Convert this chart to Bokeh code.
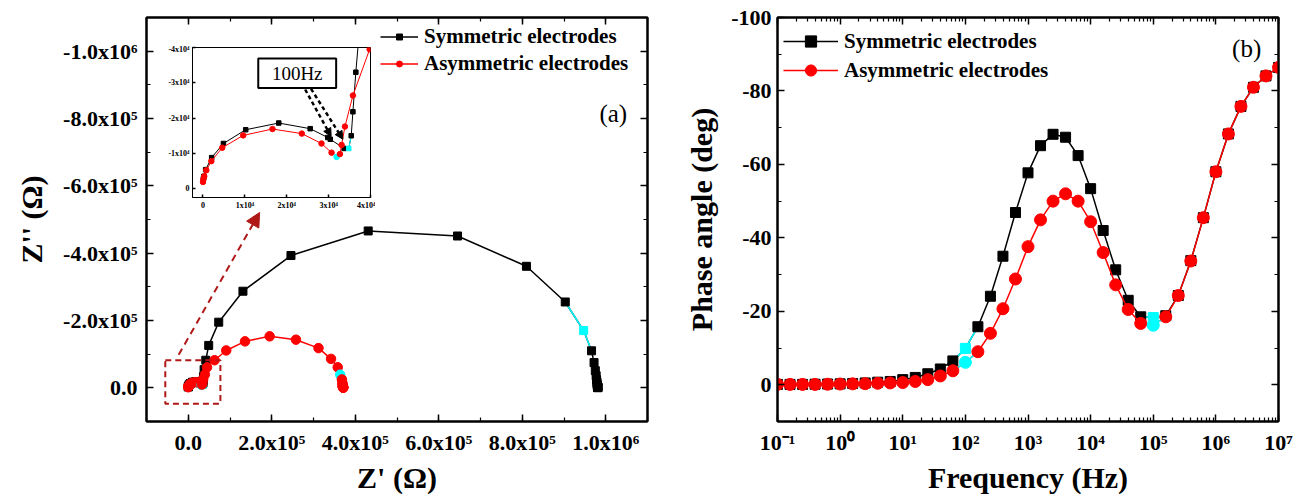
from bokeh.plotting import figure
from bokeh.models import (Range1d, FixedTicker, SingleIntervalTicker, LinearAxis, LogAxis,
                          Legend, LegendItem, BoxAnnotation, Arrow, NormalHead, Label,
                          ColumnDataSource, GridBox)
from bokeh.layouts import row
from bokeh.embed import file_html
from bokeh.resources import INLINE

# ---------------- data ----------------
# Nyquist, symmetric electrodes (Z', Z'') in ohm, high -> low frequency
sym_zre = [100, 240, 640, 2080, 4880, 10200, 18100, 25600, 29800, 30400,
           33700, 34800, 35400, 35800, 36500, 38000, 42000, 49000, 73000, 131000,
           246000, 431000, 645000, 810000, 903000, 947000, 966000, 972000, 975000, 977000,
           978000, 979000, 979000, 980000, 980000, 980000, 981000, 981000, 981000, 981000,
           981000, 981000]
sym_zim = [-2800, -3500, -5400, -8800, -12800, -16700, -18600, -17000, -14500, -14000,
           -11400, -11400, -15000, -21800, -33000, -54000, -82000, -126000, -195000, -287000,
           -393000, -466000, -451000, -361000, -255000, -170000, -110000, -75000, -51000, -36000,
           -24000, -17000, -12000, -8500, -6000, -4000, -3000, -2000, -1500, -1000,
           -700, -500]
sym_nyq_highlight = [11, 25]

# Nyquist, asymmetric electrodes
asym_zre = [0, 100, 300, 800, 2000, 4600, 9600, 16600, 23600, 28300,
            30700, 31900, 32700, 33100, 33900, 35800, 39800, 45000, 63000, 91000,
            136000, 195000, 258000, 312000, 342000, 358000, 364000, 368000, 369000, 370000,
            370000, 370000, 370500, 370500, 371000, 371000, 371000, 371000, 371000, 371000]
asym_zim = [-1900, -2600, -3500, -5200, -7800, -11600, -15100, -16900, -15600, -12800,
            -10200, -9000, -9800, -12400, -17600, -26400, -39500, -61000, -82000, -111000,
            -138000, -153000, -143000, -118000, -86000, -61000, -39000, -25000, -15500, -10000,
            -7000, -4500, -3500, -2500, -2000, -1500, -1000, -800, -600, -400]
asym_nyq_highlight = [11, 26]

# Bode phase
freq = [0.1, 0.1585, 0.2512, 0.3981, 0.631, 1.0, 1.585, 2.512, 3.981, 6.31,
        10.0, 15.85, 25.12, 39.81, 63.1, 100.0, 158.5, 251.2, 398.1, 631.0,
        1000.0, 1585.0, 2512.0, 3981.0, 6310.0, 10000.0, 15850.0, 25120.0, 39810.0, 63100.0,
        100000.0, 158500.0, 251200.0, 398100.0, 631000.0, 1000000.0, 1585000.0, 2512000.0,
        3981000.0, 6310000.0, 10000000.0]
sym_phase = [-0.1, -0.1, -0.1, -0.15, -0.2, -0.25, -0.35, -0.5, -0.7, -0.9,
             -1.4, -2.0, -3.0, -4.3, -6.5, -9.9, -15.8, -24.1, -35.0, -46.9,
             -57.7, -65.1, -68.2, -67.4, -62.4, -53.4, -42.0, -31.3, -23.0, -18.5,
             -18.3, -18.8, -24.3, -33.8, -45.5, -58.0, -68.3, -75.8, -81.0, -84.1,
             -86.4]
asym_phase = [-0.1, -0.1, -0.1, -0.1, -0.15, -0.2, -0.25, -0.3, -0.4, -0.5,
              -0.6, -0.9, -1.4, -2.4, -3.8, -6.1, -9.0, -14.0, -20.7, -28.8,
              -37.6, -44.9, -50.0, -52.0, -50.0, -44.4, -36.0, -27.2, -20.5, -16.7,
              -16.2, -18.5, -24.3, -33.7, -45.5, -58.0, -68.3, -75.8, -81.0, -84.1,
              -86.4]
phase_highlight = [15, 30]

series_names = ["Symmetric electrodes", "Asymmetric electrodes"]

# tick labels
nyq_x_ticks = [0, 200000, 400000, 600000, 800000, 1000000]
nyq_x_labels = ["0.0", "2.0x10\u2075", "4.0x10\u2075", "6.0x10\u2075", "8.0x10\u2075", "1.0x10\u2076"]
nyq_y_ticks = [0, -200000, -400000, -600000, -800000, -1000000]
nyq_y_labels = ["0.0", "-2.0x10\u2075", "-4.0x10\u2075", "-6.0x10\u2075", "-8.0x10\u2075", "-1.0x10\u2076"]
ins_x_ticks = [0, 10000, 20000, 30000, 40000]
ins_x_labels = ["0", "1x10\u2074", "2x10\u2074", "3x10\u2074", "4x10\u2074"]
ins_y_ticks = [0, -10000, -20000, -30000, -40000]
ins_y_labels = ["0", "-1x10\u2074", "-2x10\u2074", "-3x10\u2074", "-4x10\u2074"]
ph_y_ticks = [0, -20, -40, -60, -80, -100]
ph_y_labels = ["0", "-20", "-40", "-60", "-80", "-100"]
f_ticks = [0.1, 1, 10, 100, 1000, 10000, 100000, 1000000, 10000000]
f_labels = ["10\u207b\u00b9", "10\u2070", "10\u00b9", "10\u00b2", "10\u00b3", "10\u2074",
            "10\u2075", "10\u2076", "10\u2077"]

# ---------------- style ----------------
FONT = "Liberation Serif"
BLACK = "#000000"
RED = "#FF0000"
CYAN = "#00FFFF"
DARKRED = "#B01818"


def draw_series(p, xs, ys, color, marker, size, hl, lw):
    line_r = p.line(xs, ys, line_color=color, line_width=lw)
    for i in hl:
        p.line(xs[i - 1:i + 2], ys[i - 1:i + 2], line_color=CYAN, line_width=lw)
    cols = [CYAN if i in hl else color for i in range(len(xs))]
    src = ColumnDataSource(dict(x=xs, y=ys, c=cols))
    sc = p.scatter("x", "y", source=src, marker=marker, size=size,
                   fill_color="c", line_color="c")
    return line_r, sc


def style_axis(ax, fs="22px", tick_in=7, minor_in=4, lw=2):
    ax.axis_line_width = lw
    ax.axis_line_color = BLACK
    ax.major_tick_line_color = BLACK
    ax.minor_tick_line_color = BLACK
    ax.major_tick_in = tick_in
    ax.major_tick_out = 0
    ax.minor_tick_in = minor_in
    ax.minor_tick_out = 0
    ax.major_tick_line_width = 1.5
    ax.minor_tick_line_width = 1.2
    ax.major_label_text_font = FONT
    ax.major_label_text_font_style = "bold"
    ax.major_label_text_font_size = fs
    ax.major_label_text_color = BLACK
    ax.axis_label_text_font = FONT
    ax.axis_label_text_font_style = "bold"
    ax.axis_label_text_font_size = "30px"
    ax.axis_label_text_color = BLACK


def mirror_axis(p, cls, ticker, ticks, place, lw=2, tick_in=7, minor_in=4):
    ax = cls(ticker=ticker)
    style_axis(ax, fs="10px", lw=lw, tick_in=tick_in, minor_in=minor_in)
    ax.major_label_overrides = {t: "" for t in ticks}
    ax.major_label_standoff = 0
    p.add_layout(ax, place)
    return ax


def make_legend(items, loc, spacing, gw, gh):
    return Legend(items=items, location=loc, padding=0, margin=0, spacing=spacing,
                  glyph_width=gw, glyph_height=gh, label_height=20, label_standoff=6,
                  label_text_font=FONT, label_text_font_style="bold",
                  label_text_font_size="21px", label_text_color=BLACK,
                  border_line_color=None, background_fill_alpha=0)


# ---------------- left: Nyquist ----------------
p1 = figure(width=660, height=496, min_border_left=146, min_border_right=13,
            min_border_top=17, min_border_bottom=73,
            x_range=Range1d(-100000, 1100000), y_range=Range1d(100000, -1100000),
            output_backend="svg", toolbar_location=None)
p1.grid.grid_line_color = None
p1.outline_line_color = BLACK
p1.outline_line_width = 2

xt1 = SingleIntervalTicker(interval=200000, num_minor_ticks=2)
yt1 = SingleIntervalTicker(interval=200000, num_minor_ticks=2)
ax = p1.xaxis[0]
ax.ticker = xt1
style_axis(ax)
ax.major_label_overrides = dict(zip(nyq_x_ticks, nyq_x_labels))
ax.major_label_standoff = 8
ax.axis_label = "Z' (\u03a9)"
ax.axis_label_standoff = 3
ay = p1.yaxis[0]
ay.ticker = yt1
style_axis(ay)
ay.major_label_overrides = dict(zip(nyq_y_ticks, nyq_y_labels))
ay.major_label_standoff = 9
ay.axis_label = "Z'' (\u03a9)"
ay.axis_label_standoff = 12
mirror_axis(p1, LinearAxis, xt1, nyq_x_ticks, "above")
mirror_axis(p1, LinearAxis, yt1, nyq_y_ticks, "right")

l1s, s1s = draw_series(p1, sym_zre, sym_zim, BLACK, "square", 8, sym_nyq_highlight, 1.5)
l1a, s1a = draw_series(p1, asym_zre, asym_zim, RED, "circle", 9.5, asym_nyq_highlight, 1.5)

p1.add_layout(BoxAnnotation(left=-55000, right=77000, top=-82000, bottom=47000,
                            fill_alpha=0, line_alpha=1, line_color=DARKRED,
                            line_dash="6 4", line_width=2))
p1.add_layout(Arrow(end=NormalHead(size=14, fill_color=DARKRED, line_color=DARKRED),
                    x_start=-23000, y_start=-98000, x_end=171000, y_end=-521000,
                    line_color=DARKRED, line_dash="7 5", line_width=2))
p1.add_layout(Label(x=1018000, y=-814000, text="(a)", text_font=FONT, text_font_size="25px",
                    text_align="center", text_baseline="middle", text_color=BLACK))

p1.add_layout(make_legend([LegendItem(label=series_names[0], renderers=[l1s, s1s]),
                           LegendItem(label=series_names[1], renderers=[l1a, s1a])],
                          (234, 345), 2, 38, 15))

# ---------------- inset ----------------
inset = figure(width=223, height=174, min_border_left=40, min_border_right=5,
               min_border_top=3, min_border_bottom=21,
               x_range=Range1d(-2500, 40000), y_range=Range1d(2500, -40000),
               output_backend="svg", toolbar_location=None,
               border_fill_color=None, background_fill_color="white")
inset.grid.grid_line_color = None
inset.outline_line_color = BLACK
inset.outline_line_width = 1
ixt = SingleIntervalTicker(interval=10000, num_minor_ticks=0)
iyt = SingleIntervalTicker(interval=10000, num_minor_ticks=0)
iax = inset.xaxis[0]
iax.ticker = ixt
style_axis(iax, fs="8px", tick_in=3, minor_in=0, lw=1)
iax.major_label_overrides = dict(zip(ins_x_ticks, ins_x_labels))
iax.major_label_standoff = 3
iay = inset.yaxis[0]
iay.ticker = iyt
style_axis(iay, fs="8px", tick_in=3, minor_in=0, lw=1)
iay.major_label_overrides = dict(zip(ins_y_ticks, ins_y_labels))
iay.major_label_standoff = 3

draw_series(inset, sym_zre, sym_zim, BLACK, "square", 4.5, sym_nyq_highlight, 1)
draw_series(inset, asym_zre, asym_zim, RED, "circle", 5.5, asym_nyq_highlight, 1)

inset.add_layout(Arrow(end=NormalHead(size=8, fill_color=BLACK, line_color=BLACK),
                       x_start=24400, y_start=-28100, x_end=30600, y_end=-14800,
                       line_dash="4 3", line_width=2.5))
inset.add_layout(Arrow(end=NormalHead(size=8, fill_color=BLACK, line_color=BLACK),
                       x_start=25800, y_start=-28300, x_end=33400, y_end=-14000,
                       line_dash="4 3", line_width=2.5))
inset.add_layout(BoxAnnotation(left=13200, right=31800, top=-36900, bottom=-28500,
                               fill_color="white", fill_alpha=1, line_alpha=1,
                               line_color=BLACK, line_width=2))
inset.add_layout(Label(x=22500, y=-32700, text="100Hz", text_font=FONT, text_font_size="19px",
                       text_align="center", text_baseline="middle", text_color=BLACK))

# ---------------- right: Bode phase ----------------
p2 = figure(x_axis_type="log", width=638, height=496, min_border_left=117,
            min_border_right=20, min_border_top=17, min_border_bottom=73,
            x_range=Range1d(0.1, 10000000), y_range=Range1d(10, -100),
            output_backend="svg", toolbar_location=None)
p2.grid.grid_line_color = None
p2.outline_line_color = BLACK
p2.outline_line_width = 2

f_minor = [m * 10.0 ** e for e in range(-1, 7) for m in range(2, 10)]
xt2 = FixedTicker(ticks=f_ticks, minor_ticks=f_minor)
yt2 = SingleIntervalTicker(interval=20, num_minor_ticks=2)
bx = p2.xaxis[0]
bx.ticker = xt2
style_axis(bx)
bx.major_label_overrides = dict(zip(f_ticks, f_labels))
bx.major_label_standoff = 8
bx.axis_label = "Frequency (Hz)"
bx.axis_label_standoff = 3
by = p2.yaxis[0]
by.ticker = yt2
style_axis(by)
by.major_label_overrides = dict(zip(ph_y_ticks, ph_y_labels))
by.major_label_standoff = 6
by.axis_label = "Phase angle (deg)"
by.axis_label_standoff = 10
mirror_axis(p2, LogAxis, xt2, f_ticks, "above")
mirror_axis(p2, LinearAxis, yt2, ph_y_ticks, "right")

l2s, s2s = draw_series(p2, freq, sym_phase, BLACK, "square", 10, phase_highlight, 1.5)
l2a, s2a = draw_series(p2, freq, asym_phase, RED, "circle", 12, phase_highlight, 1.5)

p2.add_layout(Label(x=3100000, y=-91.5, text="(b)", text_font=FONT, text_font_size="25px",
                    text_align="center", text_baseline="middle", text_color=BLACK))

p2.add_layout(make_legend([LegendItem(label=series_names[0], renderers=[l2s, s2s]),
                           LegendItem(label=series_names[1], renderers=[l2a, s2a])],
                          (6, 337), 1, 55, 28))

left = GridBox(children=[(p1, 0, 0, 3, 3), (inset, 1, 1, 1, 1)],
               rows=["44px", "174px", "278px"], cols=["152px", "223px", "285px"])
layout = row(left, p2)

open("out.html", "w").write(file_html(layout, INLINE))
